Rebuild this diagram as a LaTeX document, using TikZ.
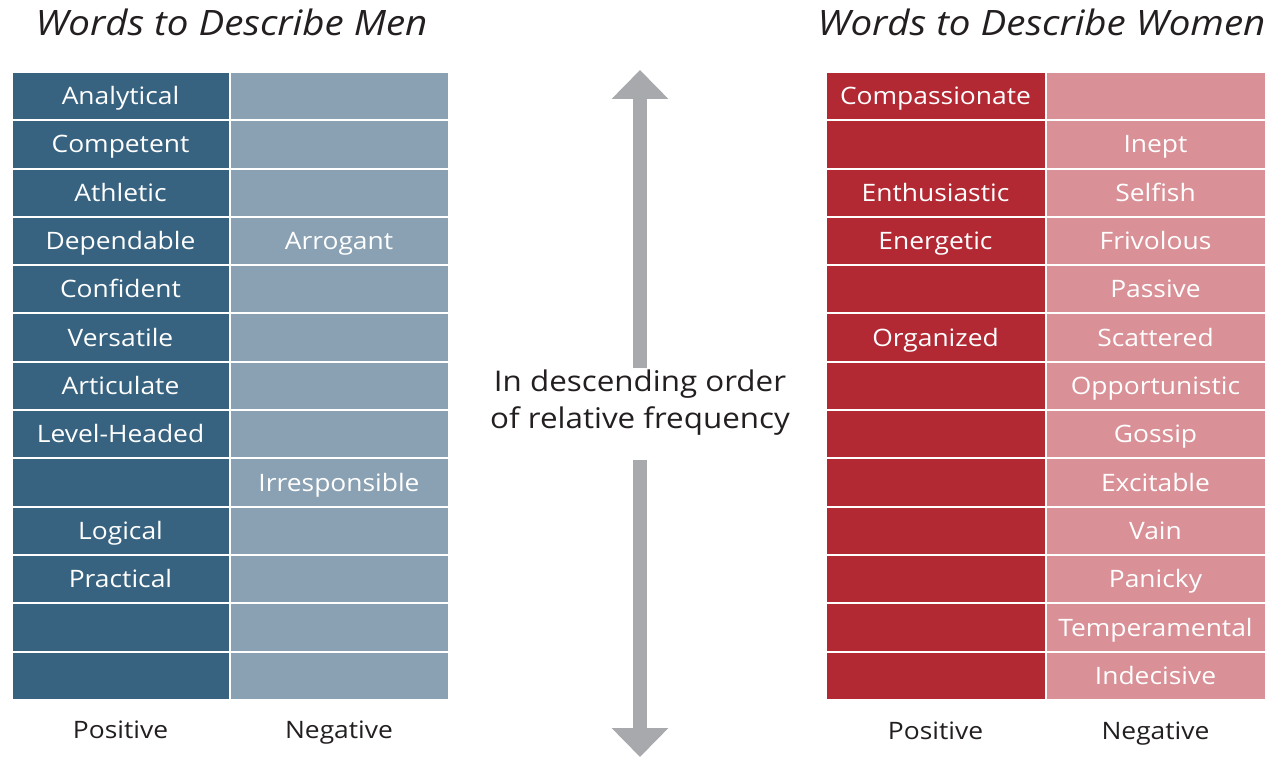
\documentclass[tikz,border=0pt]{standalone}
\usepackage{fontspec}
\setmainfont{Open Sans}[FakeStretch=1.1]
\usetikzlibrary{arrows.meta}
\definecolor{mdark}{RGB}{55,99,128}
\definecolor{mlight}{RGB}{138,161,179}
\definecolor{wdark}{RGB}{178,40,51}
\definecolor{wlight}{RGB}{217,144,150}
\definecolor{agray}{RGB}{167,169,172}
\definecolor{ltext}{RGB}{35,31,32}
\tikzset{
  cell/.style={draw=white, line width=2pt, minimum height=48.3pt, inner sep=0pt,
    text=white, font=\fontsize{24}{28}\selectfont, anchor=center,
    text height=20.6pt, text depth=3.5pt},
  mpos/.style={cell, fill=mdark, minimum width=218pt},
  mneg/.style={cell, fill=mlight, minimum width=219pt},
  wpos/.style={cell, fill=wdark, minimum width=220pt},
  wneg/.style={cell, fill=wlight, minimum width=220pt},
  collabel/.style={text=ltext, font=\fontsize{24}{28}\selectfont, anchor=center,
    text height=20.6pt, text depth=3.5pt},
  ttl/.style={text=ltext, font=\fontsize{35}{42}\selectfont\itshape, anchor=center,
    text height=30pt, text depth=5pt},
  bigarrow/.style={draw=agray, line width=14pt, -{Triangle[width=55pt,length=29pt]}}
}
\begin{document}
\begin{tikzpicture}[x=1pt,y=-1pt]
\useasboundingbox (0,0) rectangle (1278,762);
\fill[white] (0,0) rectangle (1278,762);
\node[ttl] (tm) at (231.5,23) {Words to Describe Men};
\node[ttl] (tw) at (1041.5,23) {Words to Describe Women};
% men table
\foreach \i/\p/\n in {1/Analytical/,2/Competent/,3/Athletic/,4/Dependable/Arrogant,5/Confident/,6/Versatile/,7/Articulate/,8/Level-Headed/,9//Irresponsible,10/Logical/,11/Practical/,12//,13//}{
  \node[mpos] (mp\i) at (120.5,{72+(\i-0.5)*48.3}) {\p};
  \node[mneg] (mn\i) at (339,{72+(\i-0.5)*48.3}) {\n};
}
% women table
\foreach \i/\p/\n in {1/Compassionate/,2//Inept,3/Enthusiastic/Selfish,4/Energetic/Frivolous,5//Passive,6/Organized/Scattered,7//Opportunistic,8//Gossip,9//Excitable,10//Vain,11//Panicky,12//Temperamental,13//Indecisive}{
  \node[wpos] (wp\i) at (935.5,{72+(\i-0.5)*48.3}) {\p};
  \node[wneg] (wn\i) at (1155.5,{72+(\i-0.5)*48.3}) {\n};
}
\node[collabel] (mpl) at (120.5,730) {Positive};
\node[collabel] (mnl) at (339,730) {Negative};
\node[collabel] (wpl) at (935.5,731) {Positive};
\node[collabel] (wnl) at (1155.5,731) {Negative};
% centre
\node[text=ltext, font=\fontsize{28.5}{37}\selectfont, align=center, anchor=center] (ctr) at (640,403) {In descending order\\of relative frequency};
\coordinate (utop) at (640,70);
\coordinate (ubase) at (640,368);
\coordinate (dtop) at (640,460);
\coordinate (dbot) at (640,757);
\draw[bigarrow] (ubase) -- (utop);
\draw[bigarrow] (dtop) -- (dbot);
\end{tikzpicture}
\end{document}
